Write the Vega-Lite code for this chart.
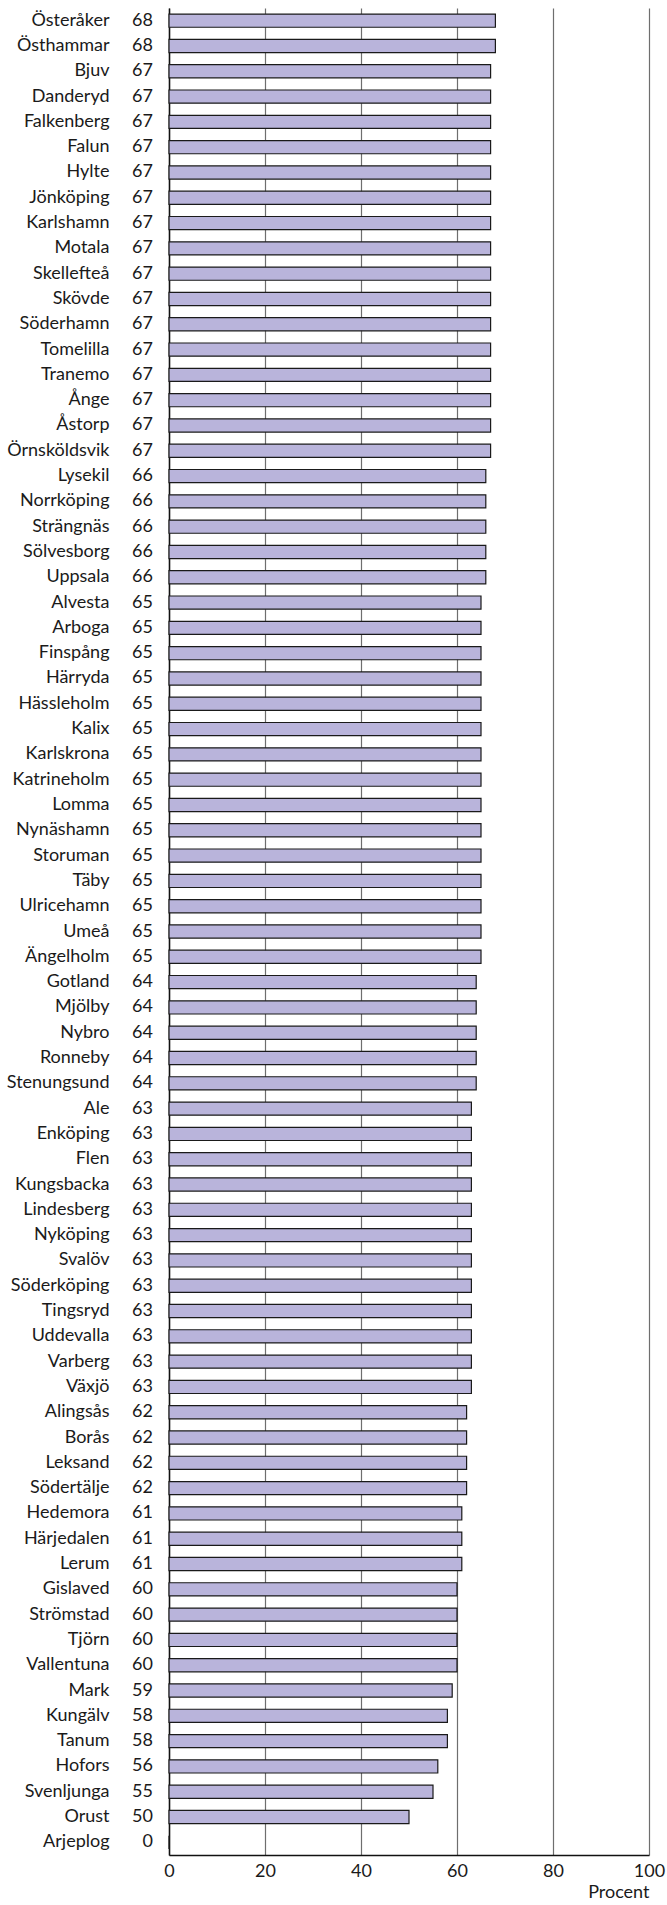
{
  "$schema": "https://vega.github.io/schema/vega-lite/v6.json",
  "width": 480,
  "height": 1847,
  "autosize": "none",
  "padding": {"left": 169, "top": 8, "right": 18, "bottom": 50},
  "background": "white",
  "config": {
    "view": {"stroke": null},
    "font": "Lato",
    "axis": {"labelFont": "Lato", "titleFont": "Lato", "labelColor": "#1a1a1a", "titleColor": "#1a1a1a"}
  },
  "data": {
    "values": [
      {"kommun": "Österåker", "procent": 68},
      {"kommun": "Östhammar", "procent": 68},
      {"kommun": "Bjuv", "procent": 67},
      {"kommun": "Danderyd", "procent": 67},
      {"kommun": "Falkenberg", "procent": 67},
      {"kommun": "Falun", "procent": 67},
      {"kommun": "Hylte", "procent": 67},
      {"kommun": "Jönköping", "procent": 67},
      {"kommun": "Karlshamn", "procent": 67},
      {"kommun": "Motala", "procent": 67},
      {"kommun": "Skellefteå", "procent": 67},
      {"kommun": "Skövde", "procent": 67},
      {"kommun": "Söderhamn", "procent": 67},
      {"kommun": "Tomelilla", "procent": 67},
      {"kommun": "Tranemo", "procent": 67},
      {"kommun": "Ånge", "procent": 67},
      {"kommun": "Åstorp", "procent": 67},
      {"kommun": "Örnsköldsvik", "procent": 67},
      {"kommun": "Lysekil", "procent": 66},
      {"kommun": "Norrköping", "procent": 66},
      {"kommun": "Strängnäs", "procent": 66},
      {"kommun": "Sölvesborg", "procent": 66},
      {"kommun": "Uppsala", "procent": 66},
      {"kommun": "Alvesta", "procent": 65},
      {"kommun": "Arboga", "procent": 65},
      {"kommun": "Finspång", "procent": 65},
      {"kommun": "Härryda", "procent": 65},
      {"kommun": "Hässleholm", "procent": 65},
      {"kommun": "Kalix", "procent": 65},
      {"kommun": "Karlskrona", "procent": 65},
      {"kommun": "Katrineholm", "procent": 65},
      {"kommun": "Lomma", "procent": 65},
      {"kommun": "Nynäshamn", "procent": 65},
      {"kommun": "Storuman", "procent": 65},
      {"kommun": "Täby", "procent": 65},
      {"kommun": "Ulricehamn", "procent": 65},
      {"kommun": "Umeå", "procent": 65},
      {"kommun": "Ängelholm", "procent": 65},
      {"kommun": "Gotland", "procent": 64},
      {"kommun": "Mjölby", "procent": 64},
      {"kommun": "Nybro", "procent": 64},
      {"kommun": "Ronneby", "procent": 64},
      {"kommun": "Stenungsund", "procent": 64},
      {"kommun": "Ale", "procent": 63},
      {"kommun": "Enköping", "procent": 63},
      {"kommun": "Flen", "procent": 63},
      {"kommun": "Kungsbacka", "procent": 63},
      {"kommun": "Lindesberg", "procent": 63},
      {"kommun": "Nyköping", "procent": 63},
      {"kommun": "Svalöv", "procent": 63},
      {"kommun": "Söderköping", "procent": 63},
      {"kommun": "Tingsryd", "procent": 63},
      {"kommun": "Uddevalla", "procent": 63},
      {"kommun": "Varberg", "procent": 63},
      {"kommun": "Växjö", "procent": 63},
      {"kommun": "Alingsås", "procent": 62},
      {"kommun": "Borås", "procent": 62},
      {"kommun": "Leksand", "procent": 62},
      {"kommun": "Södertälje", "procent": 62},
      {"kommun": "Hedemora", "procent": 61},
      {"kommun": "Härjedalen", "procent": 61},
      {"kommun": "Lerum", "procent": 61},
      {"kommun": "Gislaved", "procent": 60},
      {"kommun": "Strömstad", "procent": 60},
      {"kommun": "Tjörn", "procent": 60},
      {"kommun": "Vallentuna", "procent": 60},
      {"kommun": "Mark", "procent": 59},
      {"kommun": "Kungälv", "procent": 58},
      {"kommun": "Tanum", "procent": 58},
      {"kommun": "Hofors", "procent": 56},
      {"kommun": "Svenljunga", "procent": 55},
      {"kommun": "Orust", "procent": 50},
      {"kommun": "Arjeplog", "procent": 0}
    ]
  },
  "encoding": {
    "y": {
      "field": "kommun",
      "type": "nominal",
      "sort": null,
      "scale": {"paddingInner": 0.48, "paddingOuter": 0.24},
      "axis": {
        "title": null,
        "ticks": false,
        "tickSize": 0,
        "labelPadding": 60,
        "labelFontSize": 18,
        "domain": true,
        "domainColor": "#111111",
        "domainWidth": 1.5,
        "grid": false
      }
    }
  },
  "layer": [
    {
      "mark": {"type": "bar", "fill": "#b9b4db", "stroke": "#1a1a1a", "strokeWidth": 1.2},
      "encoding": {
        "x": {
          "field": "procent",
          "type": "quantitative",
          "scale": {"domain": [0, 100], "nice": false},
          "axis": {
            "values": [0, 20, 40, 60, 80, 100],
            "title": "Procent",
            "titleFontSize": 18,
            "titleFontWeight": "normal",
            "titleAnchor": "end",
            "titleAlign": "right",
            "titlePadding": 3,
            "labelFontSize": 18,
            "labelPadding": 7,
            "ticks": false,
            "tickSize": 0,
            "domain": true,
            "domainColor": "#111111",
            "domainWidth": 1.5,
            "grid": true,
            "gridColor": "#6e6e6e",
            "gridWidth": 1.2,
            "labelFlush": false
          }
        }
      }
    },
    {
      "mark": {"type": "text", "align": "right", "baseline": "middle", "dx": -16, "fontSize": 18, "font": "Lato", "color": "#1a1a1a"},
      "encoding": {
        "x": {"datum": 0, "type": "quantitative"},
        "text": {"field": "procent", "type": "quantitative"}
      }
    }
  ]
}
